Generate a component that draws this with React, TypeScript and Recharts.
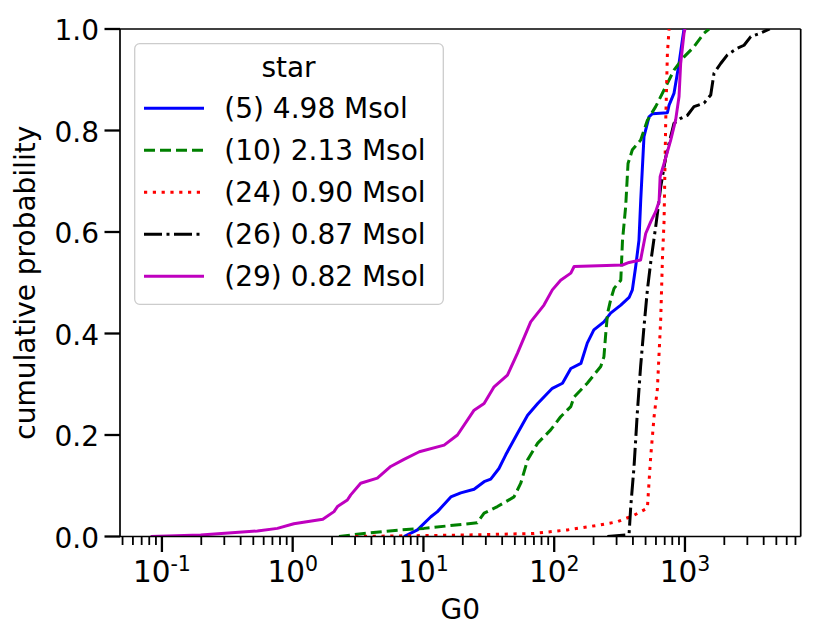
import React from 'react';
import { LineChart, Line, XAxis, YAxis, Legend, ReferenceLine } from 'recharts';

// ---------- data ----------
const s5G0 = [7.1, 9.0, 11.4, 12.8, 16.2, 19.3, 24.4, 29.1, 32.7, 37.8, 42.6, 52.3, 62.6, 74.8, 83.5, 96.8, 115.7, 134, 160, 179, 201, 240, 270, 323, 374, 396, 420, 445, 459, 486, 531, 564, 734, 756, 824, 901, 955, 984];
const s5P = [0, 0.013, 0.039, 0.049, 0.078, 0.086, 0.093, 0.108, 0.113, 0.134, 0.161, 0.203, 0.239, 0.262, 0.275, 0.292, 0.302, 0.331, 0.341, 0.381, 0.407, 0.423, 0.44, 0.456, 0.471, 0.486, 0.532, 0.584, 0.663, 0.788, 0.827, 0.833, 0.835, 0.85, 0.873, 0.932, 0.978, 1.0];

const s10G0 = [2.26, 3.51, 6.7, 10.1, 25.8, 29.1, 36.8, 49.3, 55.5, 62.6, 74.8, 94, 112, 134, 142, 179, 227, 240, 248, 256, 270, 287, 323, 333, 352, 367, 396, 458, 516, 597, 734, 824, 984, 1172, 1400, 1528];
const s10P = [0, 0.006, 0.013, 0.016, 0.027, 0.046, 0.059, 0.078, 0.105, 0.151, 0.184, 0.21, 0.236, 0.256, 0.275, 0.302, 0.335, 0.354, 0.4, 0.44, 0.466, 0.489, 0.505, 0.584, 0.65, 0.735, 0.762, 0.781, 0.82, 0.847, 0.893, 0.919, 0.945, 0.965, 0.992, 1.0];

const s24G0 = [3.0, 21.7, 70, 126, 227, 304, 408, 516, 532, 547, 580, 615, 653, 673, 692, 713, 734, 756];
const s24P = [0, 0.003, 0.006, 0.013, 0.023, 0.029, 0.042, 0.056, 0.11, 0.157, 0.235, 0.29, 0.43, 0.55, 0.62, 0.821, 0.952, 1.0];

const s26G0 = [255, 352, 374, 385, 408, 432, 458, 486, 516, 547, 597, 653, 713, 778, 824, 927, 1045, 1172, 1400, 1574, 1668, 1876, 2111, 2518, 2831, 3186, 3795, 4450];
const s26P = [0, 0.003, 0.006, 0.059, 0.138, 0.243, 0.335, 0.413, 0.486, 0.54, 0.61, 0.689, 0.748, 0.788, 0.814, 0.824, 0.83, 0.847, 0.854, 0.87, 0.913, 0.932, 0.949, 0.962, 0.968, 0.985, 0.992, 1.0];

const s29G0 = [0.082, 0.198, 0.537, 0.764, 1.02, 1.7, 2.07, 2.2, 2.62, 2.78, 3.31, 4.44, 5.62, 7.1, 9.3, 14.4, 18.2, 24.4, 29.1, 34.7, 43.9, 52.3, 66.1, 83.5, 96.8, 112, 134, 142, 333, 374, 458, 501, 547, 597, 634, 646, 692, 778, 849, 901, 927, 984, 1000];
const s29P = [0, 0.003, 0.011, 0.016, 0.025, 0.034, 0.049, 0.059, 0.072, 0.082, 0.105, 0.115, 0.138, 0.152, 0.167, 0.18, 0.2, 0.249, 0.262, 0.295, 0.318, 0.361, 0.423, 0.456, 0.486, 0.505, 0.519, 0.532, 0.535, 0.54, 0.545, 0.597, 0.62, 0.64, 0.66, 0.709, 0.735, 0.781, 0.821, 0.867, 0.932, 0.992, 1.0];

const seriesNames = ['(5) 4.98 Msol', '(10) 2.13 Msol', '(24) 0.90 Msol', '(26) 0.87 Msol', '(29) 0.82 Msol'];
const seriesColors = ['#0000ff', '#008000', '#ff0000', '#000000', '#bf00bf'];
const seriesDashes = [undefined, '11 5', '3.2 5.6', '18 4.5 3 4.5', undefined];
const seriesG0 = [s5G0, s10G0, s24G0, s26G0, s29G0];
const seriesP = [s5P, s10P, s24P, s26P, s29P];

const xDomain = [0.0478, 7676];
const majorXTicks = [0.1, 1, 10, 100, 1000];
const majorXExp = ['-1', '0', '1', '2', '3'];
const minorXTicks = [
  0.05, 0.06, 0.07, 0.08, 0.09,
  0.2, 0.3, 0.4, 0.5, 0.6, 0.7, 0.8, 0.9,
  2, 3, 4, 5, 6, 7, 8, 9,
  20, 30, 40, 50, 60, 70, 80, 90,
  200, 300, 400, 500, 600, 700, 800, 900,
  2000, 3000, 4000, 5000, 6000, 7000,
];
const yTicks = [0, 0.2, 0.4, 0.6, 0.8, 1.0];
const legendTitle = 'star';
const xLabel = 'G0';
const yLabel = 'cumulative probability';

// ---------- build ----------
const seriesData = seriesG0.map((xs, i) => xs.map((x, j) => ({ x, y: seriesP[i][j] })));
const allXTicks = [...minorXTicks, ...majorXTicks].sort((a, b) => a - b);

const FONT = 'DejaVu Sans, Liberation Sans, sans-serif';
const INK = '#000';
const W = 830;
const H = 639;
const PLOT_LEFT = 120;
const PLOT_TOP = 29;
const PLOT_RIGHT = 800.7;
const PLOT_BOTTOM = 536.5;

const XTick = (props: any) => {
  const { x, y, payload } = props;
  const v = payload.value;
  const idx = majorXTicks.indexOf(v);
  const major = idx >= 0;
  return (
    <g>
      <line x1={x} x2={x} y1={y} y2={y + (major ? 15.5 : 8.5)} stroke={INK} strokeWidth={major ? 2.3 : 1.8} />
      {major && (
        <text x={x} y={y + 45.2} textAnchor="middle" fontSize={29.5} fill={INK} fontFamily={FONT}>
          <tspan>10</tspan>
          <tspan dy={-11} fontSize={20.5}>{majorXExp[idx]}</tspan>
        </text>
      )}
    </g>
  );
};

const YTick = (props: any) => {
  const { x, y, payload } = props;
  return (
    <g>
      <line x1={x - 15.5} x2={x} y1={y} y2={y} stroke={INK} strokeWidth={2.3} />
      <text x={x - 21} y={y + 11.2} textAnchor="end" fontSize={28} fill={INK} fontFamily={FONT}>
        {Number(payload.value).toFixed(1)}
      </text>
    </g>
  );
};

const LegendBox = () => (
  <svg width={311} height={263} style={{ display: 'block', overflow: 'visible' }}>
    <rect x={0.7} y={0.7} width={308.6} height={260.6} rx={5} ry={5} fill="#ffffff" fillOpacity={0.8} stroke="#cccccc" strokeWidth={1.3} />
    <text x={154.5} y={34} textAnchor="middle" fontSize={28} fill={INK} fontFamily={FONT}>{legendTitle}</text>
    {seriesNames.map((name, i) => (
      <g key={name}>
        <line x1={10} x2={70} y1={65.3 + 42 * i} y2={65.3 + 42 * i} stroke={seriesColors[i]} strokeWidth={3} strokeDasharray={seriesDashes[i]} />
        <text x={90.3} y={75.3 + 42 * i} fontSize={28} fill={INK} fontFamily={FONT}>{name}</text>
      </g>
    ))}
  </svg>
);

const YLabelContent = () => (
  <text x={35} y={282.75} transform="rotate(-90 35 282.75)" textAnchor="middle" fontSize={28} fill={INK} fontFamily={FONT}>
    {yLabel}
  </text>
);

const XLabelContent = () => (
  <text x={(PLOT_LEFT + PLOT_RIGHT) / 2} y={619} textAnchor="middle" fontSize={28} fill={INK} fontFamily={FONT}>
    {xLabel}
  </text>
);

export default function App() {
  return (
    <div style={{ position: 'absolute', left: 0, top: 0, width: W, height: H, background: '#fff' }}>
      <LineChart
        width={W}
        height={H}
        margin={{ top: PLOT_TOP, right: W - PLOT_RIGHT, left: 0, bottom: 0 }}
      >
        <XAxis
          dataKey="x"
          type="number"
          scale="log"
          domain={xDomain}
          allowDataOverflow
          ticks={allXTicks}
          interval={0}
          tick={<XTick />}
          tickLine={false}
          tickSize={0}
          tickMargin={0}
          height={H - PLOT_BOTTOM}
          axisLine={{ stroke: INK, strokeWidth: 1.7 }}
          label={{ content: XLabelContent }}
        />
        <YAxis
          type="number"
          domain={[0, 1]}
          allowDataOverflow
          ticks={yTicks}
          interval={0}
          tick={<YTick />}
          tickLine={false}
          tickSize={0}
          tickMargin={0}
          width={PLOT_LEFT}
          axisLine={{ stroke: INK, strokeWidth: 1.7 }}
          label={{ content: YLabelContent }}
        />
        <ReferenceLine y={1} stroke={INK} strokeWidth={1.7} />
        <ReferenceLine x={xDomain[1]} stroke={INK} strokeWidth={1.7} />
        {seriesNames.map((name, i) => (
          <Line
            key={name}
            name={name}
            data={seriesData[i]}
            dataKey="y"
            type="linear"
            stroke={seriesColors[i]}
            strokeWidth={3}
            strokeDasharray={seriesDashes[i]}
            strokeLinejoin="round"
            dot={false}
            activeDot={false}
            isAnimationActive={false}
          />
        ))}
        <Legend
          layout="vertical"
          align="center"
          verticalAlign="middle"
          content={LegendBox}
          wrapperStyle={{ left: 134, top: 43, width: 311, height: 263 }}
        />
      </LineChart>
    </div>
  );
}
